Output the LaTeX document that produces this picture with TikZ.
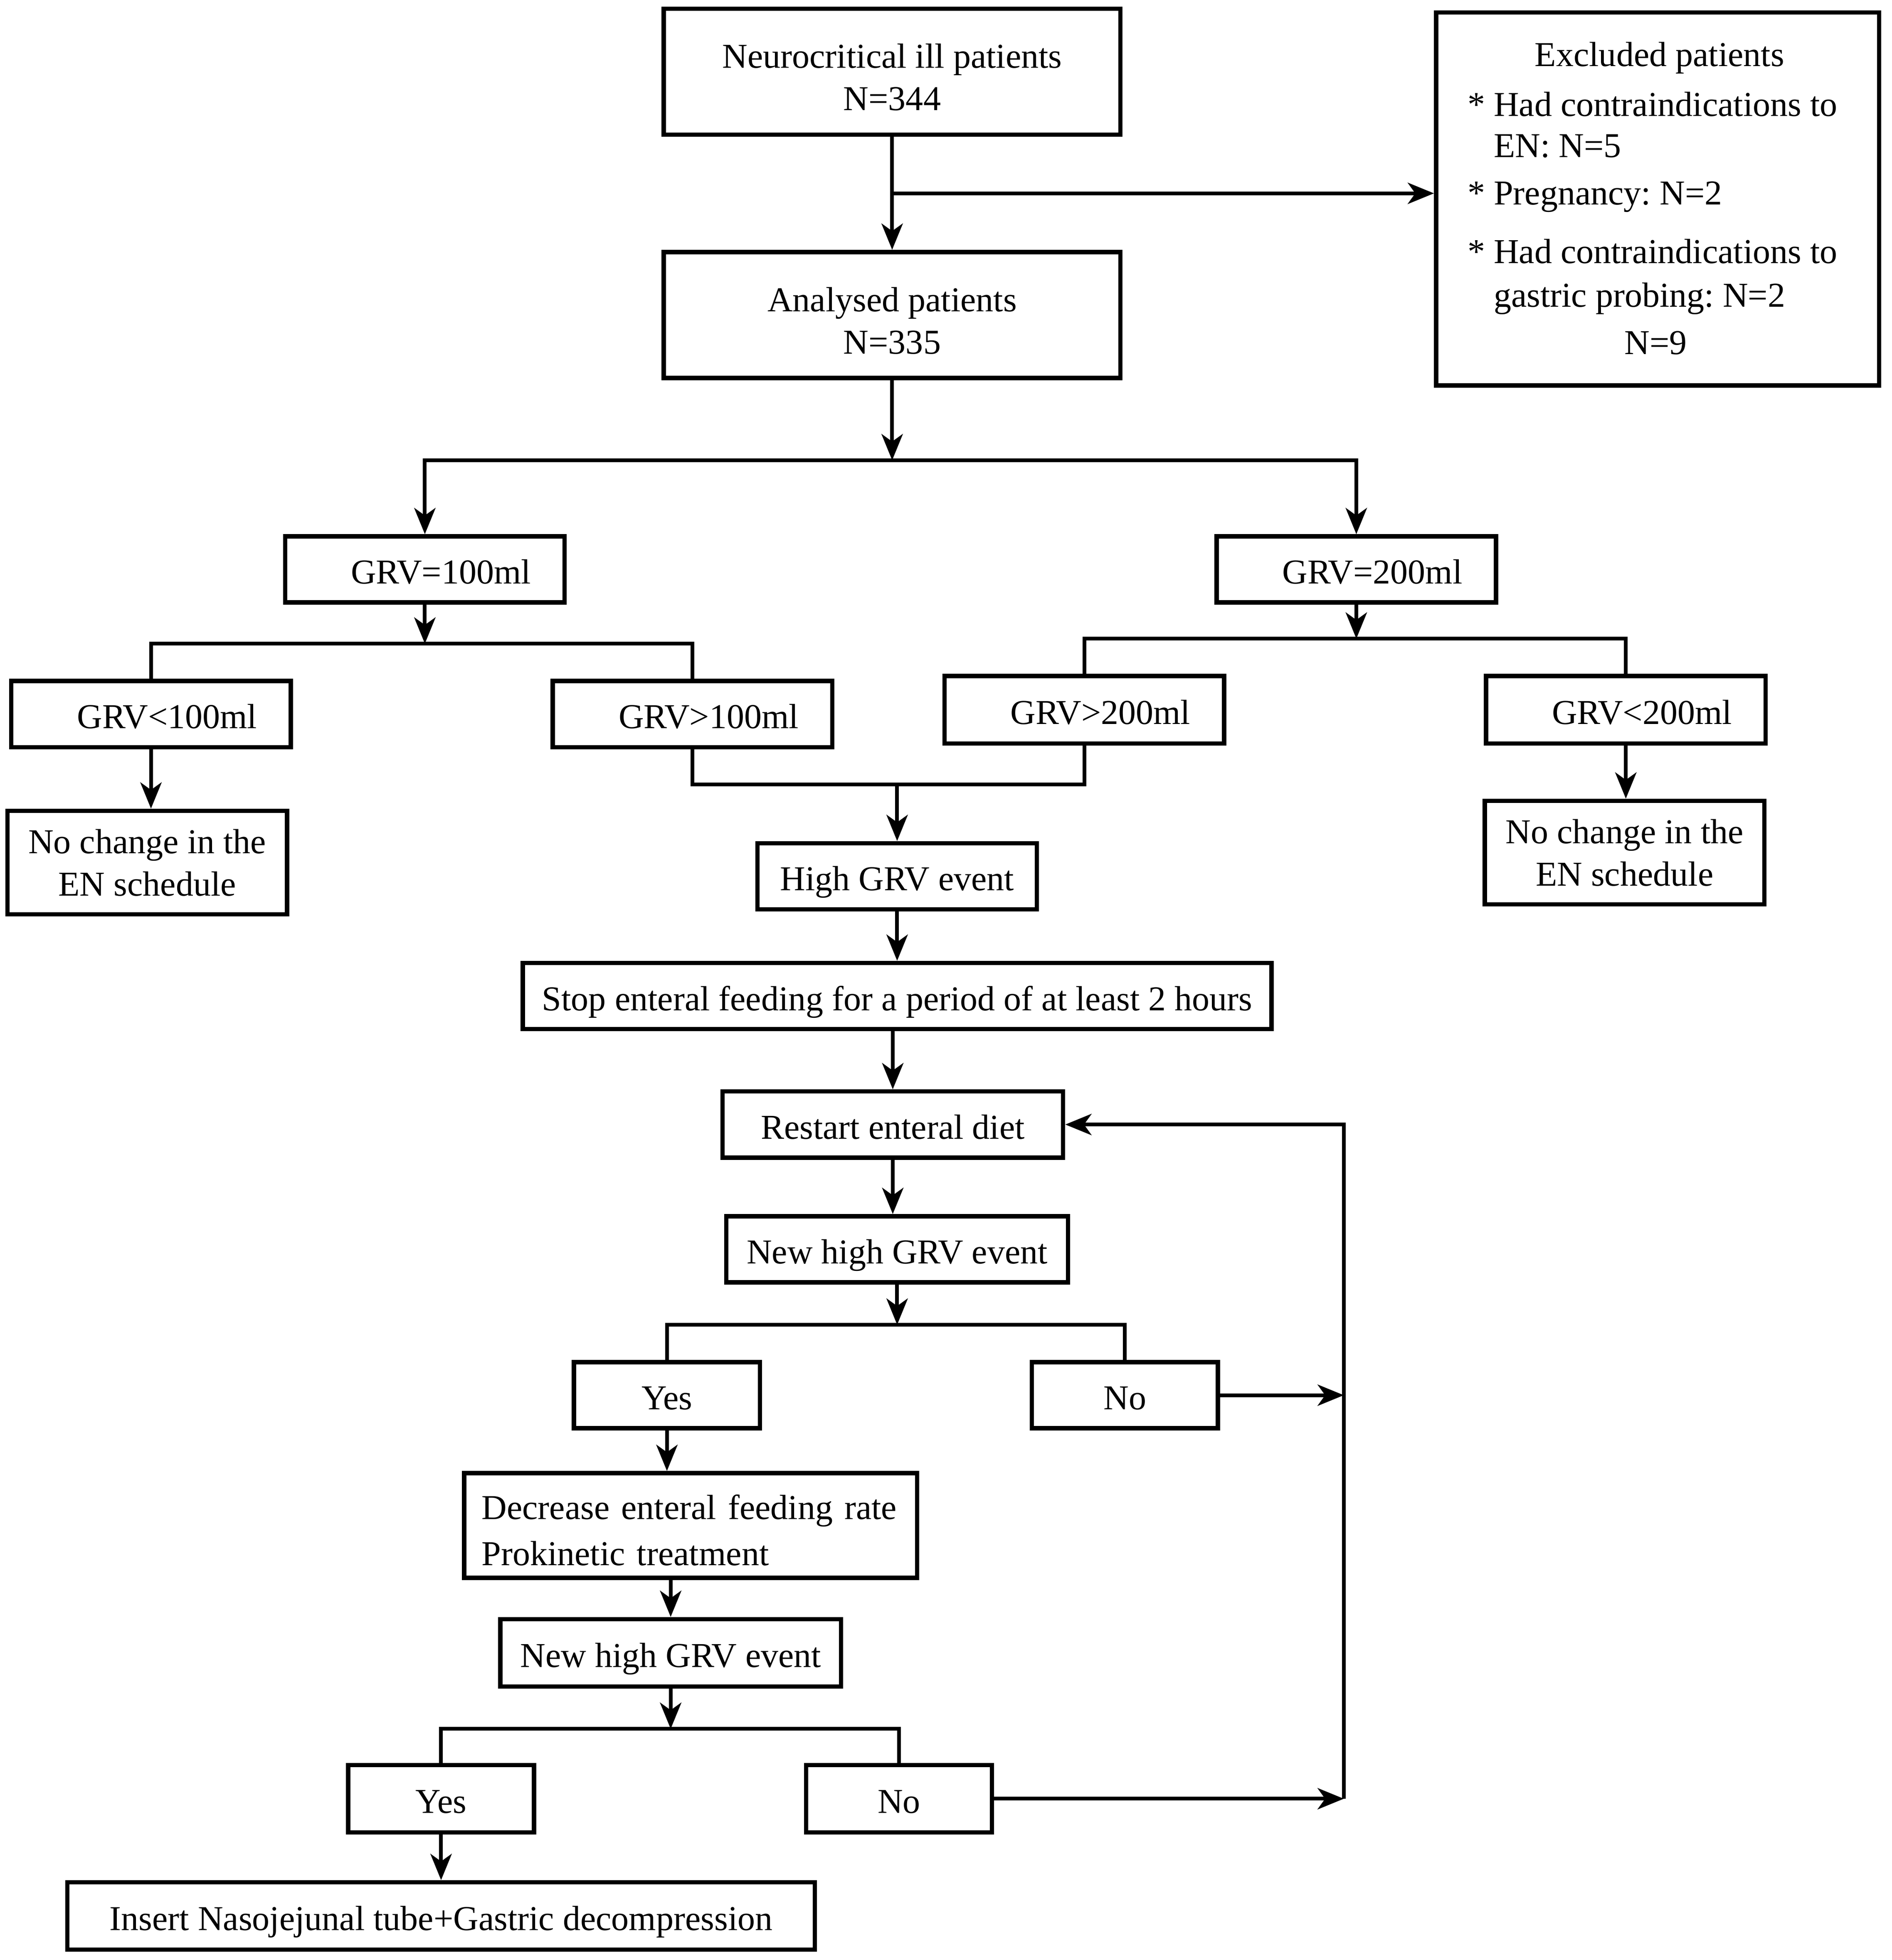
\documentclass[tikz,border=0pt]{standalone}
\usepackage{fontspec}
\setmainfont{Liberation Serif}
\usetikzlibrary{arrows.meta}
\frenchspacing
\begin{document}
\begin{tikzpicture}[x=1pt,y=-1pt,
  font=\fontsize{28}{34}\selectfont,
  box/.style={draw, line width=3.5pt, inner sep=0pt, align=center},
  one/.style={box, text height=25pt, text depth=2pt},
  grv/.style={draw, line width=3.5pt, inner ysep=0pt, inner xsep=27pt, text width=170pt, align=right, minimum height=53pt, text height=25pt, text depth=2pt},
  conn/.style={line width=3pt},
  arr/.style={line width=3pt, -{Stealth[length=21pt,width=17pt,inset=6pt]}},
  txt/.style={inner sep=0pt}
]
\useasboundingbox (0,0) rectangle (1516,1571.3);

% boxes
\node[box, minimum width=366pt, minimum height=101pt] (top) at (715,57.5) {\rule{0pt}{28pt}Neurocritical ill patients\\N=344};
\node[box, minimum width=355pt, minimum height=299pt] (excl) at (1328.5,159.5) {};
\node[box, minimum width=366pt, minimum height=101pt] (anal) at (715,252.5) {\rule{0pt}{29pt}Analysed patients\\N=335};

\node[grv, minimum width=223pt] (g100) at (340.5,456.5) {GRV=100ml};
\node[grv] (g200) at (1087,456.5) {GRV=200ml};
\node[grv] (lt100) at (121,572.5) {GRV<100ml};
\node[grv] (gt100) at (555,572.5) {GRV>100ml};
\node[grv, minimum height=54pt] (gt200) at (869,569) {GRV>200ml};
\node[grv, minimum height=54pt] (lt200) at (1303,569) {GRV<200ml};

\node[box, minimum width=224pt, minimum height=83pt] (ncl) at (118,691.5) {No change in the\\EN schedule};
\node[box, minimum width=224pt, minimum height=83pt] (ncr) at (1302,683.5) {No change in the\\EN schedule};

\node[one, minimum width=224pt, minimum height=53pt] (high) at (719,702.5) {High GRV event};
\node[one, minimum width=600pt, minimum height=53pt] (stop) at (719,798.5) {Stop enteral feeding for a period of at least 2 hours};
\node[one, minimum width=273pt, minimum height=53pt] (restart) at (715.5,901.5) {Restart enteral diet};
\node[one, minimum width=274pt, minimum height=53pt] (new1) at (719,1001.5) {New high GRV event};
\node[one, minimum width=149pt, minimum height=53pt] (yes1) at (534.5,1118.5) {Yes};
\node[one, minimum width=149pt, minimum height=53pt] (no1) at (901.5,1118.5) {No};
\node[draw, line width=3.5pt, inner ysep=0pt, inner xsep=14pt, text width=335pt, align=left, minimum height=84pt] (dec) at (553.5,1223) {\rule{0pt}{27pt}Decrease enteral feeding rate\\[3pt]Prokinetic treatment};
\node[one, minimum width=273pt, minimum height=54pt] (new2) at (537.5,1325) {New high GRV event};
\node[one, minimum width=149pt, minimum height=54pt] (yes2) at (353.5,1442) {Yes};
\node[one, minimum width=149pt, minimum height=54pt] (no2) at (720.5,1442) {No};
\node[one, minimum width=599pt, minimum height=54pt] (ins) at (353.5,1536) {Insert Nasojejunal tube+Gastric decompression};

% excluded text
\node[txt, anchor=base] (ex0) at (1330,53) {Excluded patients};
\node[txt, anchor=base west] (ex1) at (1176,93) {* Had contraindications to};
\node[txt, anchor=base west] (ex2) at (1197,126) {EN: N=5};
\node[txt, anchor=base west] (ex3) at (1176,164) {* Pregnancy: N=2};
\node[txt, anchor=base west] (ex4) at (1176,211) {* Had contraindications to};
\node[txt, anchor=base west] (ex5) at (1197,246) {gastric probing: N=2};
\node[txt, anchor=base] (ex6) at (1327,284) {N=9};

% connectors
\coordinate (e1) at (715,155);
\coordinate (b1) at (715,369);
\coordinate (b2) at (340.5,516);
\coordinate (b3) at (1087,512);
\coordinate (m1) at (719,629);
\coordinate (b4) at (719,1062);
\coordinate (b5) at (537.5,1386);
\coordinate (lp1) at (1077,901.5);
\coordinate (lp2) at (1077,1442);

\draw[arr] (top.south) -- (anal.north);
\draw[arr] (e1) -- (e1 -| excl.west);
\draw[arr] (anal.south) -- (b1);
\draw[arr] (b1) -| (g100.north);
\draw[arr] (b1) -| (g200.north);

\draw[arr] (g100.south) -- (b2);
\draw[conn] (b2) -| (lt100.north);
\draw[conn] (b2) -| (gt100.north);
\draw[arr] (g200.south) -- (b3);
\draw[conn] (b3) -| (gt200.north);
\draw[conn] (b3) -| (lt200.north);

\draw[arr] (lt100.south) -- (lt100.south |- ncl.north);
\draw[arr] (lt200.south) -- (lt200.south |- ncr.north);

\draw[conn] (gt100.south) |- (m1) -| (gt200.south);
\draw[arr] (m1) -- (high.north);
\draw[arr] (high.south) -- (stop.north);
\draw[arr] (restart.north |- stop.south) -- (restart.north);
\draw[arr] (restart.south) -- (restart.south |- new1.north);
\draw[arr] (b4 |- new1.south) -- (b4);
\draw[conn] (b4) -| (yes1.north);
\draw[conn] (b4) -| (no1.north);

\draw[arr] (lp2) -- (lp1) -- (restart.east);
\draw[arr] (no1.east) -- (no1.east -| lp1);
\draw[arr] (no2.east) -- (no2.east -| lp1);

\draw[arr] (yes1.south) -- (yes1.south |- dec.north);
\draw[arr] (new2.north |- dec.south) -- (new2.north);
\draw[arr] (new2.south) -- (b5);
\draw[conn] (b5) -| (yes2.north);
\draw[conn] (b5) -| (no2.north);
\draw[arr] (yes2.south) -- (ins.north);
\end{tikzpicture}
\end{document}
